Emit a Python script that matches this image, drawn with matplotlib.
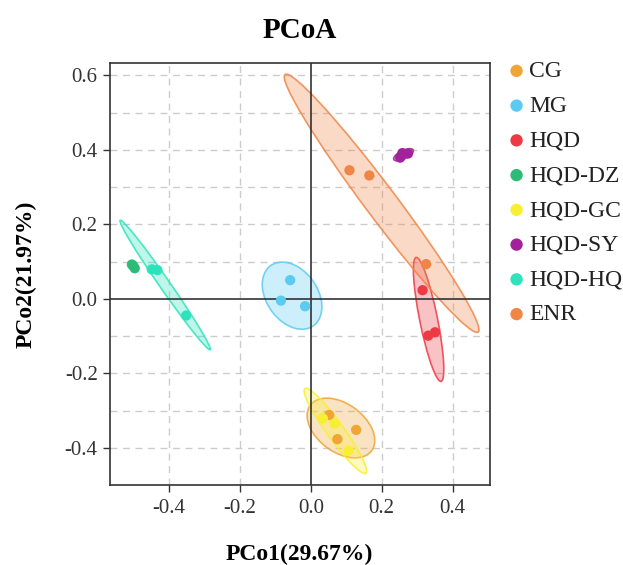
import numpy as np
import matplotlib
matplotlib.use("Agg")
import matplotlib.pyplot as plt
from matplotlib.patches import Ellipse

plt.rcParams['font.family'] = ['Liberation Serif', 'DejaVu Serif']

groups = ['CG', 'MG', 'HQD', 'HQD-DZ', 'HQD-GC', 'HQD-SY', 'HQD-HQ', 'ENR']
colors = ['#F0A536', '#5CCBF2', '#EE3A45', '#2DBB78', '#F7F032', '#A3229C', '#2EE3BC', '#F08546']

# sample coordinates (PCo1, PCo2), three samples per group
cg_x = [0.052, 0.128, 0.075]
cg_y = [-0.312, -0.352, -0.377]
mg_x = [-0.058, -0.084, -0.016]
mg_y = [0.050, -0.005, -0.020]
hqd_x = [0.315, 0.331, 0.350]
hqd_y = [0.023, -0.099, -0.090]
dz_x = [-0.504, -0.496, -0.500]
dz_y = [0.092, 0.082, 0.088]
gc_x = [0.034, 0.068, 0.106]
gc_y = [-0.321, -0.335, -0.408]
sy_x = [0.252, 0.258, 0.274]
sy_y = [0.379, 0.391, 0.390]
hq_x = [-0.448, -0.432, -0.351]
hq_y = [0.079, 0.077, -0.045]
enr_x = [0.109, 0.165, 0.325]
enr_y = [0.345, 0.331, 0.093]

xs = [cg_x, mg_x, hqd_x, dz_x, gc_x, sy_x, hq_x, enr_x]
ys = [cg_y, mg_y, hqd_y, dz_y, gc_y, sy_y, hq_y, enr_y]

fig = plt.figure(figsize=(6.23, 5.65), dpi=100)
ax = fig.add_axes([0.1758, 0.1416, 0.6107, 0.7469])


def conf_ellipse(x, y, color):
    x = np.array(x)
    y = np.array(y)
    cov = np.cov(x, y)
    vals, vecs = np.linalg.eigh(cov)
    order = vals.argsort()[::-1]
    vals = vals[order]
    vecs = vecs[:, order]
    k = np.sqrt(5.991)  # 95% level
    angle = np.degrees(np.arctan2(vecs[1, 0], vecs[0, 0]))
    w = 2 * k * np.sqrt(max(vals[0], 0))
    h = 2 * k * np.sqrt(max(vals[1], 0))
    e = Ellipse((x.mean(), y.mean()), w, h, angle=angle,
                facecolor=color, alpha=0.3, edgecolor='none', zorder=2)
    ax.add_patch(e)
    e2 = Ellipse((x.mean(), y.mean()), w, h, angle=angle,
                 facecolor='none', edgecolor=color, lw=1.2, alpha=0.85, zorder=2)
    ax.add_patch(e2)


for g, c, x, y in zip(groups, colors, xs, ys):
    conf_ellipse(x, y, c)

for g, c, x, y in zip(groups, colors, xs, ys):
    ax.scatter(x, y, s=55, color=c, edgecolors='none', zorder=4, label=g)

ax.axhline(0, color='#333333', lw=1.2, zorder=3)
ax.axvline(0, color='#333333', lw=1.2, zorder=3)

ax.set_xlim(-0.567, 0.505)
ax.set_ylim(-0.500, 0.633)
ax.set_xticks([-0.4, -0.2, 0.0, 0.2, 0.4])
ax.set_yticks([-0.4, -0.2, 0.0, 0.2, 0.4, 0.6])
ax.set_xticklabels(['-0.4', '-0.2', '0.0', '0.2', '0.4'])
ax.set_yticklabels(['-0.4', '-0.2', '0.0', '0.2', '0.4', '0.6'])

# dashed grid: x at ticks, y every 0.1
for v in [-0.4, -0.2, 0.2, 0.4]:
    ax.axvline(v, color='#cccccc', ls=(0, (5, 4)), lw=1, zorder=1)
for v in np.arange(-0.4, 0.65, 0.1):
    if abs(v) > 1e-6:
        ax.axhline(v, color='#cccccc', ls=(0, (5, 4)), lw=1, zorder=1)

ax.tick_params(axis='both', labelsize=15, color='#333333', labelcolor='#333333',
               length=5, width=1)
ax.tick_params(axis='x', pad=5)
for s in ax.spines.values():
    s.set_color('#333333')
    s.set_linewidth(1.2)

ax.set_title('PCoA', fontsize=21, fontweight='bold', pad=18)
ax.set_xlabel('PCo1(29.67%)', fontsize=17, fontweight='bold', labelpad=19)
ax.set_ylabel('PCo2(21.97%)', fontsize=17, fontweight='bold', labelpad=20)

leg = ax.legend(loc='upper left', bbox_to_anchor=(1.0, 1.045), frameon=False,
                fontsize=17, handletextpad=0.1, labelspacing=0.56,
                markerscale=1.2, borderaxespad=0.3, handlelength=0.85)
for t in leg.get_texts():
    t.set_color('#222222')

fig.savefig('out.png', dpi=100)
